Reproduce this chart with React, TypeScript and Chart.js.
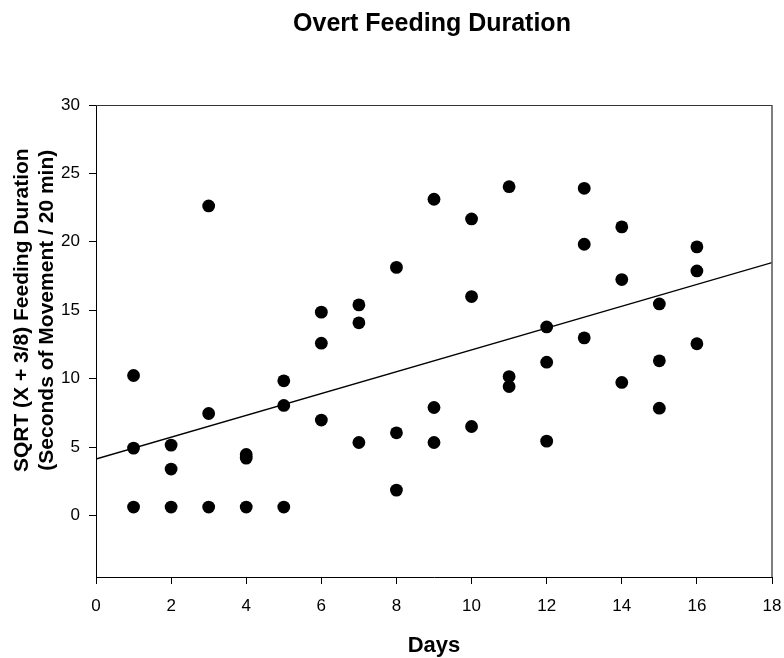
import React, { useEffect, useRef } from 'react';
import { Chart, registerables } from 'chart.js';

Chart.register(...registerables);

// ---- Data ----
const days = [1, 2, 3, 4, 5, 6, 7, 8, 9, 10, 11, 12, 13, 14, 15, 16];
const highValues = [10.23, 5.14, 22.62, 4.46, 9.84, 14.86, 15.39, 18.13, 23.11, 21.67, 24.03, 13.78, 23.91, 21.09, 15.46, 19.63];
const midValues = [4.92, 3.39, 7.45, 4.19, 8.04, 12.59, 14.08, 6.04, 7.89, 16.0, 10.15, 11.2, 19.82, 17.24, 11.3, 17.87];
const lowValues = [0.61, 0.61, 0.61, 0.61, 0.61, 6.97, 5.33, 1.85, 5.33, 6.5, 9.42, 5.43, 12.98, 9.72, 7.84, 12.55];

const xTicks = [0, 2, 4, 6, 8, 10, 12, 14, 16, 18];
const yTicks = [0, 5, 10, 15, 20, 25, 30];

const fitX = [0, 18];
const fitY = [4.12, 18.48];

const chartTitle = 'Overt Feeding Duration';
const xTitle = 'Days';
const yTitleLines = ['SQRT (X + 3/8) Feeding Duration', '(Seconds of Movement / 20 min)'];

const FONT = '"Liberation Sans", Arial, Helvetica, sans-serif';

const textPlugin = {
  id: 'textAndFrame',
  afterDraw(chart: any) {
    const ctx = chart.ctx as CanvasRenderingContext2D;
    const area = chart.chartArea;
    ctx.save();
    // frame: top and right
    ctx.strokeStyle = '#333';
    ctx.lineWidth = 1;
    ctx.beginPath();
    ctx.moveTo(area.left, area.top + 0.5);
    ctx.lineTo(area.right, area.top + 0.5);
    ctx.stroke();
    ctx.strokeStyle = '#555';
    ctx.lineWidth = 1.5;
    ctx.beginPath();
    ctx.moveTo(area.right, area.top);
    ctx.lineTo(area.right, area.bottom);
    ctx.stroke();

    ctx.fillStyle = '#000';
    ctx.textAlign = 'center';
    ctx.textBaseline = 'alphabetic';

    // main title
    ctx.font = `bold 25px ${FONT}`;
    ctx.fillText(chartTitle, 432, 31);

    // x title
    ctx.font = `bold 22px ${FONT}`;
    ctx.fillText(xTitle, (area.left + area.right) / 2, 652);

    // y title (two lines, rotated)
    const yScale = chart.scales.y;
    const cy = (yScale.getPixelForValue(0) + yScale.getPixelForValue(30)) / 2;
    ctx.font = `bold 21px ${FONT}`;
    const baselines = [28, 53];
    yTitleLines.forEach((line, i) => {
      ctx.save();
      ctx.translate(baselines[i], cy);
      ctx.rotate(-Math.PI / 2);
      ctx.fillText(line, 0, 0);
      ctx.restore();
    });
    ctx.restore();
  },
};

export default function App() {
  const canvasRef = useRef<HTMLCanvasElement | null>(null);

  useEffect(() => {
    document.body.style.margin = '0';
    const canvas = canvasRef.current;
    if (!canvas) return;

    const points: { x: number; y: number }[] = [];
    days.forEach((d, i) => {
      points.push({ x: d, y: highValues[i] });
      points.push({ x: d, y: midValues[i] });
      points.push({ x: d, y: lowValues[i] });
    });
    const fitPoints = fitX.map((x, i) => ({ x, y: fitY[i] }));

    const chart = new Chart(canvas, {
      type: 'scatter',
      data: {
        datasets: [
          {
            data: points,
            backgroundColor: '#000',
            borderColor: '#000',
            borderWidth: 0,
            pointRadius: 6.4,
            pointHoverRadius: 6.4,
          },
          {
            data: fitPoints,
            showLine: true,
            borderColor: '#000',
            borderWidth: 1.4,
            pointRadius: 0,
            pointHoverRadius: 0,
            fill: false,
          } as any,
        ],
      },
      options: {
        animation: false,
        responsive: false,
        devicePixelRatio: 1,
        layout: { padding: { top: 105, right: 12, left: 0, bottom: 0 } },
        plugins: {
          legend: { display: false },
          tooltip: { enabled: false },
          title: { display: false },
        },
        scales: {
          x: {
            type: 'linear',
            min: 0,
            max: 18,
            afterBuildTicks: (scale: any) => {
              scale.ticks = xTicks.map((v) => ({ value: v }));
            },
            afterFit: (scale: any) => {
              scale.height = 81;
              scale.paddingLeft = 0;
              scale.paddingRight = 0;
            },
            grid: {
              drawOnChartArea: false,
              drawTicks: true,
              tickLength: 7,
              color: '#000',
            },
            border: { display: true, color: '#000', width: 1 },
            ticks: {
              color: '#000',
              padding: 12,
              maxRotation: 0,
              autoSkip: false,
              font: { family: FONT, size: 17 },
            },
          },
          y: {
            type: 'linear',
            min: -4.5,
            max: 30,
            afterBuildTicks: (scale: any) => {
              scale.ticks = yTicks.map((v) => ({ value: v }));
            },
            afterFit: (scale: any) => {
              scale.width = 96;
            },
            grid: {
              drawOnChartArea: false,
              drawTicks: true,
              tickLength: 7,
              color: '#000',
            },
            border: { display: true, color: '#000', width: 1 },
            ticks: {
              color: '#000',
              padding: 9,
              autoSkip: false,
              font: { family: FONT, size: 17 },
            },
          },
        },
      },
      plugins: [textPlugin],
    });

    return () => {
      chart.destroy();
    };
  }, []);

  return (
    <div style={{ width: 784, height: 658, position: 'relative', background: '#fff' }}>
      <canvas ref={canvasRef} width={784} height={658} style={{ display: 'block' }} />
    </div>
  );
}
